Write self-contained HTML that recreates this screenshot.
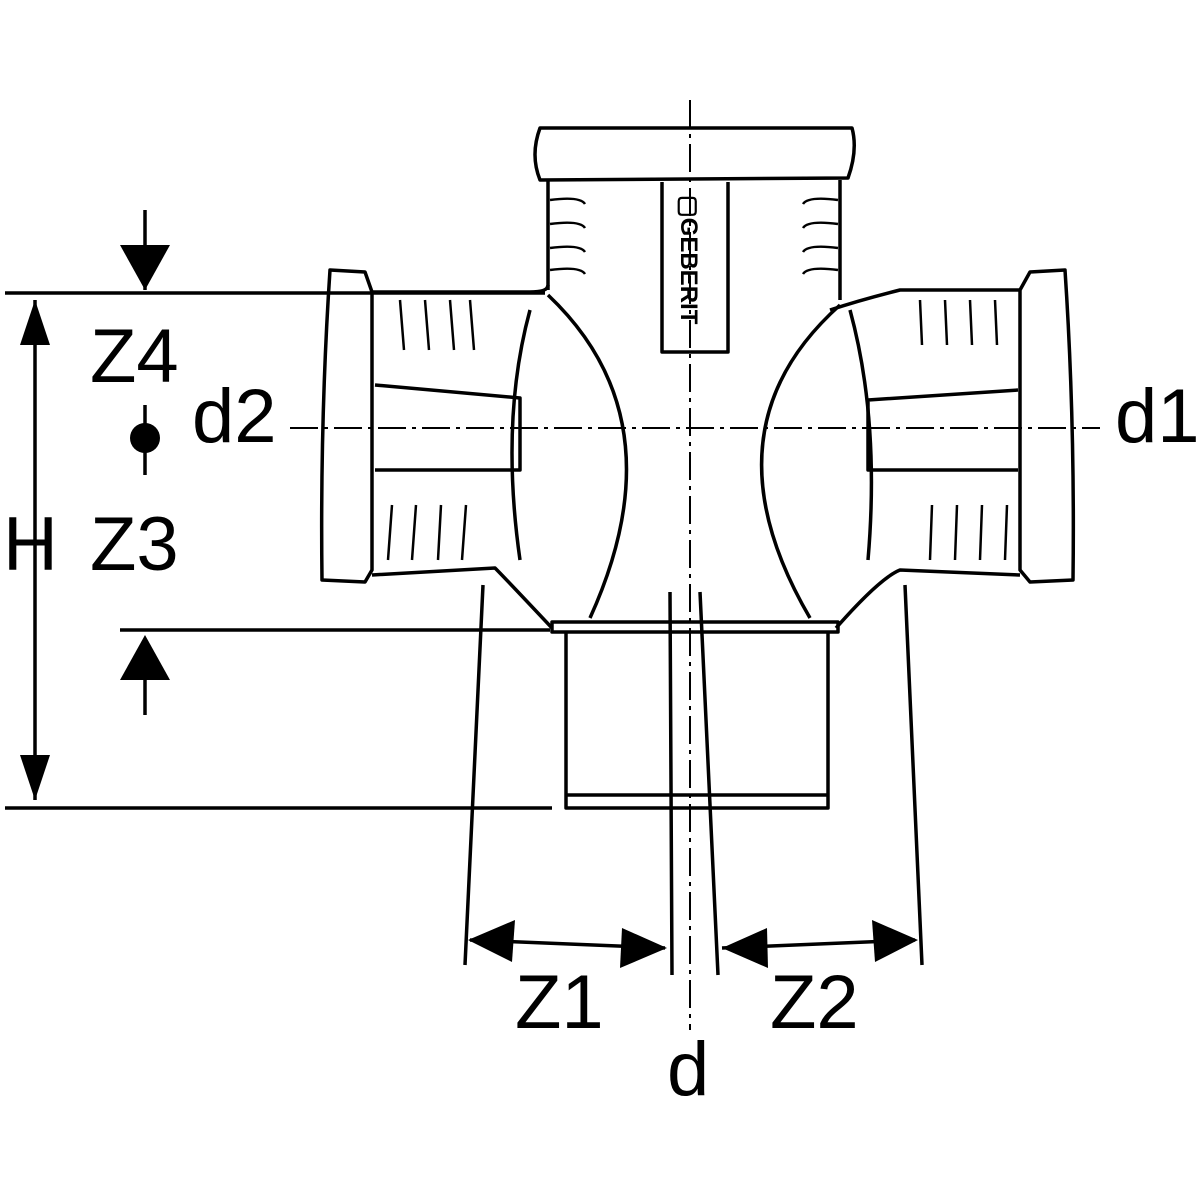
<!DOCTYPE html>
<html><head><meta charset="utf-8"><style>
html,body{margin:0;padding:0;background:#fff}
svg{display:block}
text{font-family:"Liberation Sans",sans-serif;font-size:76px;fill:#000}
</style></head><body>
<svg width="1200" height="1200" viewBox="0 0 1200 1200" xmlns="http://www.w3.org/2000/svg">
<g fill="none" stroke="#000" stroke-width="3.5" stroke-linejoin="round">
<!-- top socket -->
<path d="M540 128 L852 128 Q858 150 848 178 L540 180 Q530 155 540 128 Z"/>
<path d="M548 180 L548 290 M840 180 L840 300"/>
<path d="M662 182 L662 352 L728 352 L728 182"/>
<g stroke-width="2.5">
<path d="M550 200 Q580 196 585 204 M550 224 Q580 220 585 228 M550 248 Q580 244 585 252 M550 270 Q580 266 585 274"/>
<path d="M838 200 Q808 196 803 204 M838 224 Q808 220 803 228 M838 248 Q808 244 803 252 M838 270 Q808 266 803 274"/>
</g>
<!-- left branch -->
<path d="M330 270 Q320 420 322 580 L365 582 L372 570 L372 292 L365 272 Z"/>
<path d="M372 292 L530 292 Q548 292 548 285"/>
<path d="M372 575 L495 568 Q505 578 552 628"/>
<path d="M530 310 Q500 420 520 560"/>
<path d="M375 385 L520 398 L520 470 L375 470"/>
<g stroke-width="2.5">
<path d="M400 300 L404 350 M425 300 L429 350 M450 300 L454 350 M470 300 L474 350"/>
<path d="M388 560 L392 505 M412 560 L416 505 M438 560 L441 505 M462 560 L466 505"/>
</g>
<!-- right branch -->
<path d="M1065 270 Q1075 420 1073 580 L1030 582 L1020 570 L1020 290 L1030 272 Z"/>
<path d="M1020 290 L900 290 Q860 300 830 310"/>
<path d="M1020 575 L900 570 Q880 578 836 628"/>
<path d="M850 310 Q880 420 868 560"/>
<path d="M1018 390 L868 400 L868 470 L1018 470"/>
<g stroke-width="2.5">
<path d="M920 300 L922 345 M945 300 L947 345 M970 300 L972 345 M995 300 L997 345"/>
<path d="M930 560 L932 505 M955 560 L957 505 M980 560 L982 505 M1005 560 L1007 505"/>
</g>
<!-- inner curves -->
<path d="M548 295 Q680 420 590 618"/>
<path d="M840 305 Q700 430 810 618"/>
<!-- bottom spigot -->
<path d="M552 622 L838 622 L838 632 L552 632 Z"/>
<path d="M566 632 L566 808 L828 808 L828 632 M566 795 L828 795"/>
<!-- dimension lines -->
<path d="M5 293 L545 293 M120 630 L550 630 M5 808 L552 808"/>
<path d="M35 300 L35 800 M145 210 L145 290 M145 640 L145 715 M145 405 L145 475"/>
<path d="M483 585 L465 965 M670 592 L672 975 M700 592 L718 975 M905 585 L922 965"/>
<path d="M470 940 L665 948 M722 948 L915 940"/>
<path d="M690 100 L690 1030 M290 428 L1100 428" stroke-width="2" stroke-dasharray="28 6 4 6"/>
</g>
<g fill="#000">
<polygon points="35,300 20,345 50,345"/>
<polygon points="35,800 20,755 50,755"/>
<polygon points="145,290 120,245 170,245"/>
<polygon points="145,635 120,680 170,680"/>
<polygon points="468,940 515,920 512,962"/>
<polygon points="667,948 622,928 620,968"/>
<polygon points="722,948 767,928 768,968"/>
<polygon points="918,940 872,920 875,962"/>
<circle cx="145" cy="438" r="15"/>
</g>
<text x="90" y="382">Z4</text>
<text x="192" y="442">d2</text>
<text x="1115" y="442">d1</text>
<text x="3" y="570">H</text>
<text x="90" y="570">Z3</text>
<text x="515" y="1028">Z1</text>
<text x="770" y="1028">Z2</text>
<text x="667" y="1095">d</text>
<text x="0" y="0" transform="translate(681,195) rotate(90)" style="font-size:24px;font-weight:bold">▢GEBERIT</text>
</svg>
</body></html>
